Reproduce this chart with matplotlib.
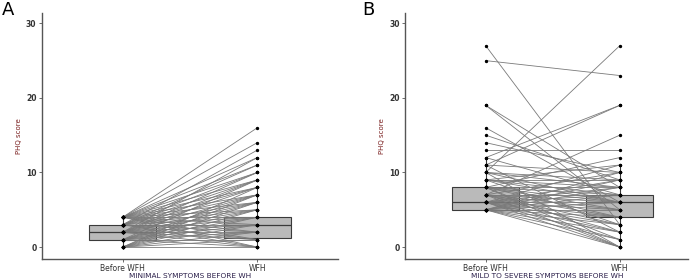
import matplotlib
matplotlib.use("Agg")
import matplotlib.pyplot as plt
import numpy as np

# panel A: minimal symptoms before WFH
# rows = score before WFH, columns = score during WFH, cell = number of subjects
a_pre_scores = [0, 1, 2, 3, 4]
a_post_scores = [0, 1, 2, 3, 4, 5, 6, 7, 8, 9, 10, 11, 12, 13, 14, 16]
a_counts = [
    [6, 5, 3, 4, 3, 1, 1, 1, 1, 0, 0, 0, 0, 0, 0, 0],
    [4, 6, 5, 5, 5, 2, 1, 1, 0, 1, 0, 0, 0, 0, 0, 0],
    [2, 5, 5, 7, 7, 2, 2, 1, 1, 1, 1, 0, 1, 0, 0, 0],
    [2, 4, 4, 6, 6, 1, 1, 1, 1, 1, 1, 1, 0, 1, 0, 0],
    [1, 3, 3, 6, 7, 1, 1, 1, 1, 1, 1, 1, 1, 0, 1, 1],
]

# panel B: mild to severe symptoms before WFH -- (before, after) pairs and counts
b_before = [5, 5, 5, 5, 5, 5, 5, 5, 5, 5, 5,
            6, 6, 6, 6, 6, 6, 6, 6, 6, 6, 6,
            7, 7, 7, 7, 7, 7, 7, 7, 7,
            8, 8, 8, 8, 8, 8, 8, 8,
            9, 9, 9, 9, 9, 9,
            10, 10, 10, 10, 10,
            11, 11, 11, 12, 12,
            13, 14, 15, 16, 19, 19, 25, 27]
b_after = [0, 1, 2, 3, 4, 5, 6, 7, 8, 9, 10,
           0, 1, 2, 3, 4, 5, 6, 7, 8, 9, 11,
           0, 2, 3, 4, 5, 6, 7, 10, 15,
           0, 1, 4, 5, 6, 7, 8, 12,
           3, 6, 7, 8, 9, 11,
           0, 6, 8, 9, 27,
           2, 10, 19, 7, 19,
           13, 10, 9, 6, 5, 8, 23, 3]
b_count = [1, 1, 1, 2, 5, 6, 5, 3, 1, 1, 1,
           1, 1, 1, 1, 4, 4, 6, 4, 1, 1, 1,
           1, 1, 1, 2, 2, 3, 2, 1, 1,
           1, 1, 1, 1, 2, 3, 2, 1,
           1, 1, 1, 1, 1, 1,
           1, 1, 1, 1, 1,
           1, 1, 1, 1, 1,
           1, 1, 1, 1, 1, 1, 1, 1]

x_labels = ["Before WFH", "WFH"]
y_ticks = [0, 10, 20, 30]

# flatten the matrix of panel A into pair lists
a_before, a_after, a_count = [], [], []
for i, p in enumerate(a_pre_scores):
    for j, q in enumerate(a_post_scores):
        if a_counts[i][j] > 0:
            a_before.append(p)
            a_after.append(q)
            a_count.append(a_counts[i][j])

fig = plt.figure(figsize=(7, 2.8), dpi=100)
ax_a = fig.add_axes([0.06, 0.075, 0.423, 0.879])
ax_b = fig.add_axes([0.579, 0.075, 0.404, 0.879])

def draw_panel(ax, before, after, count, xlab, xmax):
    pre = np.repeat(before, count)
    post = np.repeat(after, count)
    ax.boxplot([pre, post], positions=[1, 2], widths=0.5, patch_artist=True,
               showfliers=False, whis=1.5, zorder=1,
               boxprops=dict(facecolor="#bababa", edgecolor="#3a3a3a", linewidth=0.8),
               medianprops=dict(color="#3a3a3a", linewidth=0.9),
               whiskerprops=dict(color="#3a3a3a", linewidth=0.8),
               capprops=dict(linewidth=0))
    for b, a in zip(before, after):
        ax.plot([1, 2], [b, a], color="#7a7a7a", lw=0.6, zorder=2)
    ax.scatter(np.ones(len(before)), before, s=2, color="black", zorder=3)
    ax.scatter(np.full(len(after), 2), after, s=2, color="black", zorder=3)

    ax.set_xlim(0.4, xmax)
    ax.set_ylim(-1.6, 31.4)
    ax.set_xticks([1, 2])
    ax.set_xticklabels(x_labels, fontsize=5.5, color="#333333")
    ax.set_yticks(y_ticks)
    ax.set_yticklabels([str(t) for t in y_ticks], fontsize=5.5, color="#333333",
                       fontweight="bold")
    ax.tick_params(length=2, width=0.6, color="#555555", pad=2)
    ax.tick_params(axis="x", pad=1.5)
    for s in ["top", "right"]:
        ax.spines[s].set_visible(False)
    for s in ["left", "bottom"]:
        ax.spines[s].set_color("#555555")
        ax.spines[s].set_linewidth(1.0)
    ax.set_ylabel("PHQ score", fontsize=5, color="#7a1f1f", labelpad=3)
    ax.set_xlabel(xlab, fontsize=5.3, color="#2b1f4a", labelpad=0)

draw_panel(ax_a, a_before, a_after, a_count, "MINIMAL SYMPTOMS BEFORE WH", 2.6)
draw_panel(ax_b, b_before, b_after, b_count, "MILD TO SEVERE SYMPTOMS BEFORE WH", 2.51)

fig.text(0.003, 0.995, "A", fontsize=13, va="top", ha="left")
fig.text(0.517, 0.995, "B", fontsize=13, va="top", ha="left")

fig.savefig("out.png", dpi=100)
